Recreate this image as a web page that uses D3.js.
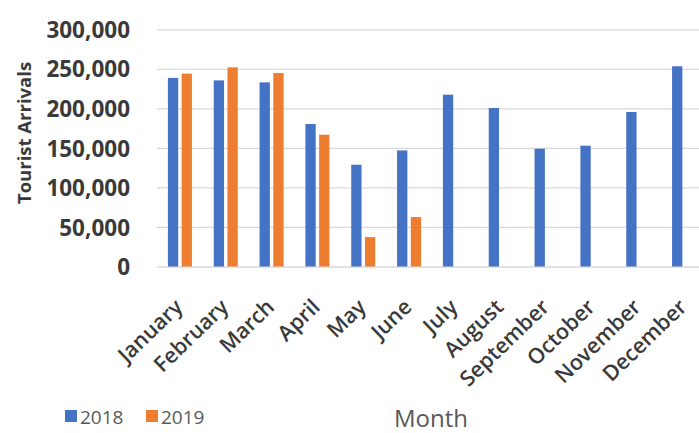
<!DOCTYPE html>
<html><head><meta charset="utf-8">
<script src="https://cdn.jsdelivr.net/npm/d3@7"></script>
<style>
html,body{margin:0;padding:0;background:#fff;}
svg{display:block;}
text{font-family:"Open Sans",sans-serif;}
</style></head>
<body>
<svg id="chart" width="699" height="433"></svg>
<script>
const months = ["January","February","March","April","May","June","July","August","September","October","November","December"];
const seriesNames = ["2018","2019"];
const values2018 = [238500,235400,232900,180200,128700,146800,217300,200500,149000,152800,195400,253200];
const values2019 = [243900,251900,244800,166700,37200,62500,null,null,null,null,null,null];
const yTicks = [0,50000,100000,150000,200000,250000,300000];
const colors = ["#4472C4","#ED7D31"];

const svg = d3.select("#chart");
const x0 = d3.scaleBand().domain(months).range([157,707]).paddingInner(0.476).paddingOuter(0.238);
const x1 = d3.scaleBand().domain(seriesNames).range([0,x0.bandwidth()]).paddingInner(0.25);
const y = d3.scaleLinear().domain([0,300000]).range([266.5,29.3]);
const color = d3.scaleOrdinal().domain(seriesNames).range(colors);

// gridlines
const yAxis = d3.axisLeft(y).tickValues(yTicks).tickSize(-(707-157)).tickFormat(d3.format(","));
const gy = svg.append("g").attr("transform","translate(157,0)").call(yAxis);
gy.select(".domain").remove();
gy.selectAll(".tick line").attr("stroke","#D9D9D9").attr("stroke-width",1.3);
gy.selectAll(".tick text").attr("x",-27).attr("fill","#3a3a3a")
  .style("font-size","22.5px").style("font-weight","700").attr("dy","0.36em");

// bars
const rows = months.map((m,i)=>({m, vals:[values2018[i],values2019[i]]}));
const grp = svg.append("g").selectAll("g").data(rows).join("g")
  .attr("transform",d=>`translate(${x0(d.m)},0)`);
grp.selectAll("rect").data(d=>d.vals.map((v,j)=>({s:seriesNames[j],v})).filter(e=>e.v!=null))
  .join("rect")
  .attr("x",d=>x1(d.s)).attr("width",x1.bandwidth())
  .attr("y",d=>y(d.v)).attr("height",d=>y(0)-y(d.v))
  .attr("fill",d=>color(d.s));

// x axis labels
const xAxis = d3.axisBottom(x0).tickSize(0).tickPadding(0);
const gx = svg.append("g").attr("transform","translate(0,266.5)").call(xAxis);
gx.select(".domain").remove();
gx.selectAll(".tick text")
  .attr("text-anchor","end").attr("fill","#3a3a3a")
  .style("font-size","21.5px").style("font-weight","600")
  .attr("y",0).attr("dy",0)
  .attr("transform","translate(4,42) rotate(-44)");

// y axis title
svg.append("text").attr("transform","translate(31,133) rotate(-90)")
  .attr("text-anchor","middle").attr("fill","#3a3a3a")
  .style("font-size","18.5px").style("font-weight","700").text("Tourist Arrivals");

// x axis title
svg.append("text").attr("x",431).attr("y",427).attr("text-anchor","middle")
  .attr("fill","#595959").style("font-size","24px").text("Month");

// legend
const leg = svg.append("g").selectAll("g").data(seriesNames).join("g")
  .attr("transform",(d,i)=>`translate(${65+i*81},0)`);
leg.append("rect").attr("x",0).attr("y",410).attr("width",12).attr("height",12).attr("fill",d=>color(d));
leg.append("text").attr("x",15).attr("y",423.5).attr("fill","#595959")
  .style("font-size","19px").text(d=>d);
</script>
</body></html>
